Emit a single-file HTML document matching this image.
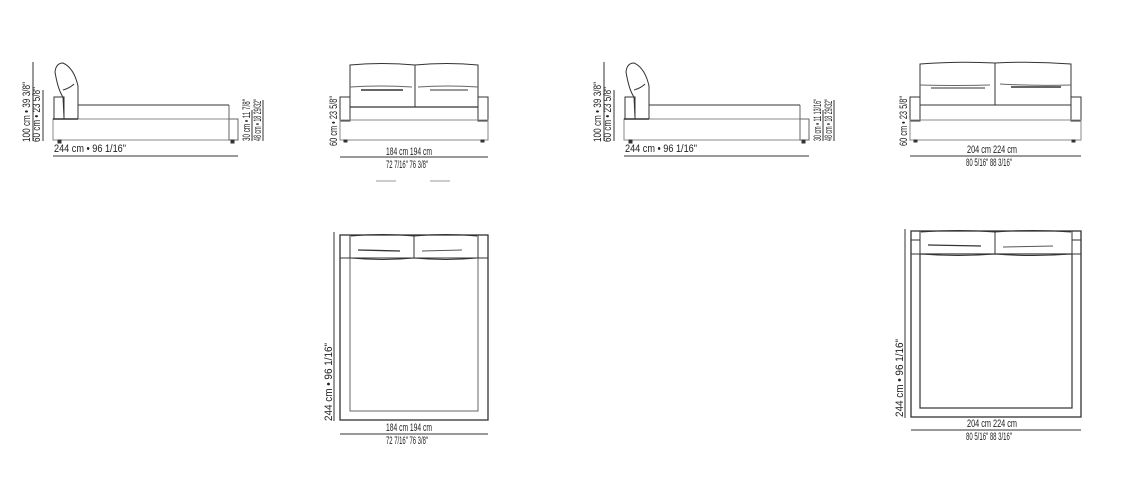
<!DOCTYPE html>
<html><head><meta charset="utf-8"><style>
html,body{margin:0;padding:0;background:#fff;width:1140px;height:490px;overflow:hidden}
svg{display:block}
text{font-family:"Liberation Sans",sans-serif;fill:#222}
</style></head><body>
<svg width="1140" height="490" viewBox="0 0 1140 490" xmlns="http://www.w3.org/2000/svg">
<defs>
<g id="side" fill="none" stroke="#333" stroke-width="1">
  <rect x="53" y="119" width="185" height="21" stroke="#888"/>
  <rect x="229" y="119" width="9" height="21" stroke="#666"/>
  <line x1="229" y1="119" x2="229" y2="105" stroke="#666"/>
  <line x1="78" y1="105" x2="229" y2="105"/>
  <line x1="53" y1="119" x2="78" y2="119" stroke-width="1.5"/>
  <rect x="54" y="97" width="10" height="22"/>
  <path d="M64 118 L63 97 Q58 90 55 72 Q56 63 63 63 Q74 68 78 86 L78 119"/>
  <path d="M63 90 Q70 88 74 84"/>
  <rect x="58" y="140" width="3" height="3" fill="#333"/>
  <rect x="231" y="140" width="3" height="3" fill="#333"/>
  <line x1="33" y1="62" x2="33" y2="141"/>
  <line x1="43" y1="90" x2="43" y2="141"/>
  <line x1="252" y1="110" x2="252" y2="141"/>
  <line x1="263" y1="100" x2="263" y2="141"/>
  <line x1="53" y1="156" x2="238" y2="156"/>
</g>
</defs>
<use href="#side"/>
<g transform="translate(571,0)"><use href="#side"/></g>
<g font-size="11">
<text transform="translate(30,142) rotate(-90)" textLength="60" lengthAdjust="spacingAndGlyphs">100 cm • 39 3/8"</text>
<text transform="translate(40,142) rotate(-90)" textLength="55" lengthAdjust="spacingAndGlyphs">60 cm • 23 5/8"</text>
<text transform="translate(250,141) rotate(-90)" textLength="42" lengthAdjust="spacingAndGlyphs">30 cm • 11 7/8"</text>
<text transform="translate(261,141) rotate(-90)" textLength="42" lengthAdjust="spacingAndGlyphs">48 cm • 18 29/32"</text>
<text x="54" y="152" textLength="72" lengthAdjust="spacingAndGlyphs">244 cm • 96 1/16"</text>
<text transform="translate(601,142) rotate(-90)" textLength="60" lengthAdjust="spacingAndGlyphs">100 cm • 39 3/8"</text>
<text transform="translate(611,142) rotate(-90)" textLength="55" lengthAdjust="spacingAndGlyphs">60 cm • 23 5/8"</text>
<text transform="translate(821,141) rotate(-90)" textLength="42" lengthAdjust="spacingAndGlyphs">30 cm • 11 13/16"</text>
<text transform="translate(832,141) rotate(-90)" textLength="42" lengthAdjust="spacingAndGlyphs">48 cm • 18 29/32"</text>
<text x="625" y="152" textLength="72" lengthAdjust="spacingAndGlyphs">244 cm • 96 1/16"</text>
</g>

<!-- front 1 -->
<g fill="none" stroke="#333" stroke-width="1">
  <path d="M350 107 L350 65 Q382 62 415 65 Q447 62 478 65 L478 107"/>
  <line x1="415" y1="65" x2="415" y2="107"/>
  <path d="M350 87 Q380 85 412 87 M418 87 Q448 85 478 87" stroke="#666"/>
  <line x1="361" y1="90" x2="403" y2="90" stroke-width="1.5"/>
  <line x1="430" y1="90" x2="468" y2="90" stroke="#777" stroke-width="1.5"/>
  <rect x="340" y="97" width="10" height="24"/>
  <rect x="478" y="97" width="10" height="24"/>
  <line x1="350" y1="107" x2="478" y2="107" stroke-width="1.3"/>
  <rect x="340" y="120" width="148" height="20" stroke="#888"/>
  <rect x="344" y="140" width="3" height="2" fill="#333"/>
  <rect x="481" y="140" width="3" height="2" fill="#333"/>
  <line x1="340" y1="157" x2="488" y2="157"/>
  <line x1="376" y1="181" x2="396" y2="181" stroke="#999"/>
  <line x1="430" y1="181" x2="450" y2="181" stroke="#999"/>
</g>
<g font-size="11">
<text transform="translate(337,146) rotate(-90)" textLength="50" lengthAdjust="spacingAndGlyphs">60 cm • 23 5/8"</text>
<text x="386" y="155" textLength="46" lengthAdjust="spacingAndGlyphs">184 cm  194 cm</text>
<text x="386" y="168" textLength="42" lengthAdjust="spacingAndGlyphs">72 7/16"  76 3/8"</text>
</g>

<!-- front 2 -->
<g fill="none" stroke="#333" stroke-width="1">
  <path d="M920 105 L920 64 Q958 61 995 63 Q1033 61 1071 64 L1071 105"/>
  <line x1="995" y1="63" x2="995" y2="105"/>
  <path d="M920 85 Q955 86 990 85 M1000 84 Q1035 86 1071 85" stroke="#666"/>
  <line x1="931" y1="88" x2="985" y2="88" stroke="#777" stroke-width="1.5"/>
  <line x1="1011" y1="87" x2="1061" y2="87" stroke-width="1.5"/>
  <rect x="910" y="97" width="10" height="24"/>
  <rect x="1071" y="97" width="10" height="24"/>
  <line x1="920" y1="105" x2="1071" y2="105"/>
  <rect x="910" y="120" width="171" height="20" stroke="#888"/>
  <rect x="914" y="140" width="3" height="2" fill="#333"/>
  <rect x="1072" y="140" width="3" height="2" fill="#333"/>
  <line x1="910" y1="156" x2="1081" y2="156"/>
</g>
<g font-size="11">
<text transform="translate(907,146) rotate(-90)" textLength="50" lengthAdjust="spacingAndGlyphs">60 cm • 23 5/8"</text>
<text x="967" y="153" textLength="50" lengthAdjust="spacingAndGlyphs">204 cm  224 cm</text>
<text x="966" y="166" textLength="46" lengthAdjust="spacingAndGlyphs">80 5/16"  88 3/16"</text>
</g>

<!-- plan 1 -->
<g fill="none" stroke="#333" stroke-width="1">
  <rect x="340" y="235" width="148" height="185" stroke-width="1.3"/>
  <rect x="350" y="258" width="128" height="153" stroke="#666"/>
  <line x1="340" y1="258" x2="488" y2="258"/>
  <path d="M350 235 L350 258 M478 235 L478 258"/>
  <path d="M351 236 Q383 233 414 236 Q446 233 477 236"/>
  <line x1="414" y1="236" x2="414" y2="258"/>
  <path d="M351 258 Q383 261 414 258 Q446 261 477 258"/>
  <line x1="358" y1="250" x2="400" y2="251" stroke-width="1.3"/>
  <line x1="422" y1="251" x2="462" y2="250" stroke="#555"/>
  <line x1="334" y1="232" x2="334" y2="421"/>
  <line x1="340" y1="434" x2="488" y2="434"/>
</g>
<g font-size="11">
<text transform="translate(332,421) rotate(-90)" textLength="78" lengthAdjust="spacingAndGlyphs">244 cm • 96 1/16"</text>
<text x="386" y="431" textLength="46" lengthAdjust="spacingAndGlyphs">184 cm  194 cm</text>
<text x="386" y="444" textLength="42" lengthAdjust="spacingAndGlyphs">72 7/16"  76 3/8"</text>
</g>

<!-- plan 2 -->
<g fill="none" stroke="#333" stroke-width="1">
  <rect x="911" y="231" width="170" height="186" stroke-width="1.3"/>
  <rect x="920" y="254" width="152" height="154" stroke-width="1.2"/>
  <line x1="911" y1="254" x2="1081" y2="254"/>
  <line x1="911" y1="240" x2="920" y2="240"/>
  <line x1="1072" y1="240" x2="1081" y2="240"/>
  <path d="M920 231 L920 254 M1072 231 L1072 254"/>
  <path d="M921 232 Q958 229 995 232 Q1033 229 1071 232"/>
  <line x1="995" y1="232" x2="995" y2="254"/>
  <path d="M921 254 Q958 257 995 254 Q1033 257 1071 254"/>
  <line x1="928" y1="245" x2="981" y2="246" stroke-width="1.3"/>
  <line x1="1003" y1="247" x2="1053" y2="246" stroke="#555"/>
  <line x1="905" y1="229" x2="905" y2="418"/>
  <line x1="911" y1="430" x2="1081" y2="430"/>
</g>
<g font-size="11">
<text transform="translate(903,417) rotate(-90)" textLength="78" lengthAdjust="spacingAndGlyphs">244 cm • 96 1/16"</text>
<text x="967" y="427" textLength="50" lengthAdjust="spacingAndGlyphs">204 cm  224 cm</text>
<text x="966" y="440" textLength="46" lengthAdjust="spacingAndGlyphs">80 5/16"  88 3/16"</text>
</g>
</svg>
</body></html>
